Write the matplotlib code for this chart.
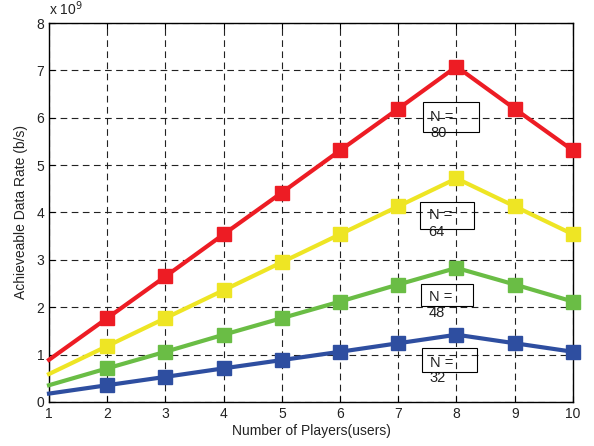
import matplotlib
matplotlib.use('Agg')
from matplotlib import pyplot as plt
from matplotlib.patches import Rectangle

plt.rcParams['font.family'] = ['Liberation Sans', 'DejaVu Sans']

players = [1, 2, 3, 4, 5, 6, 7, 8, 9, 10]
# achievable data rate in units of 1e9 b/s
rate_n80 = [0.89, 1.77, 2.65, 3.54, 4.42, 5.31, 6.19, 7.08, 6.19, 5.31]
rate_n64 = [0.59, 1.18, 1.77, 2.36, 2.95, 3.54, 4.13, 4.72, 4.13, 3.54]
rate_n48 = [0.354, 0.71, 1.06, 1.42, 1.77, 2.12, 2.48, 2.83, 2.48, 2.12]
rate_n32 = [0.177, 0.354, 0.53, 0.71, 0.885, 1.06, 1.24, 1.42, 1.24, 1.06]
series_labels = ['80', '64', '48', '32']
colors = ['#ED1C24', '#EEE524', '#6ABD45', '#2E4EA0']

# label boxes: (left, bottom, width, height) and text positions in data units
boxes = [(7.42, 5.70, 0.97, 0.63), (7.37, 3.65, 0.93, 0.58),
         (7.39, 2.03, 0.90, 0.47), (7.40, 0.64, 0.95, 0.49)]
text_n = [(7.55, 6.01), (7.52, 3.95), (7.52, 2.21), (7.54, 0.83)]
text_val = [(7.55, 5.67), (7.52, 3.59), (7.52, 1.88), (7.54, 0.50)]

fig = plt.figure(figsize=(5.94, 4.46), dpi=100)
ax = fig.add_axes([0.0825, 0.0987, 0.882, 0.8497])

for vals, c in zip([rate_n80, rate_n64, rate_n48, rate_n32], colors):
    ax.plot(players, vals, color=c, linewidth=3, marker='s', markersize=9.5,
            markevery=list(range(1, 10)), clip_on=False, zorder=3)

for (bx, by, bw, bh), (nx, ny), (vx, vy), lab in zip(boxes, text_n, text_val, series_labels):
    ax.add_patch(Rectangle((bx, by), bw, bh, fill=False, edgecolor='black', linewidth=0.8, zorder=4))
    ax.text(nx, ny, 'N =', fontsize=10.5, va='center', ha='left', color='#222222', zorder=5)
    ax.text(vx, vy, lab, fontsize=10.5, va='center', ha='left', color='#222222', zorder=5)

ax.set_xlim(1, 10)
ax.set_ylim(0, 8)
ax.set_xticks(players)
ax.set_yticks(range(0, 9))
ax.grid(True, color='#222222', linestyle=(0, (6, 4)), linewidth=0.8)
ax.tick_params(direction='in', labelsize=10, top=True, right=True, length=4, labelcolor='#222222')
for s in ax.spines.values():
    s.set_linewidth(1.0)

ax.text(0.0, 1.012, r'x 10$^9$', transform=ax.transAxes, fontsize=10, ha='left', va='bottom',
        color='#222222')
ax.set_xlabel('Number of Players(users)', fontsize=10, labelpad=2, color='#222222')
ax.set_ylabel('Achieveable Data Rate (b/s)', fontsize=10, labelpad=6, color='#222222')

fig.savefig('out.png', dpi=100)
